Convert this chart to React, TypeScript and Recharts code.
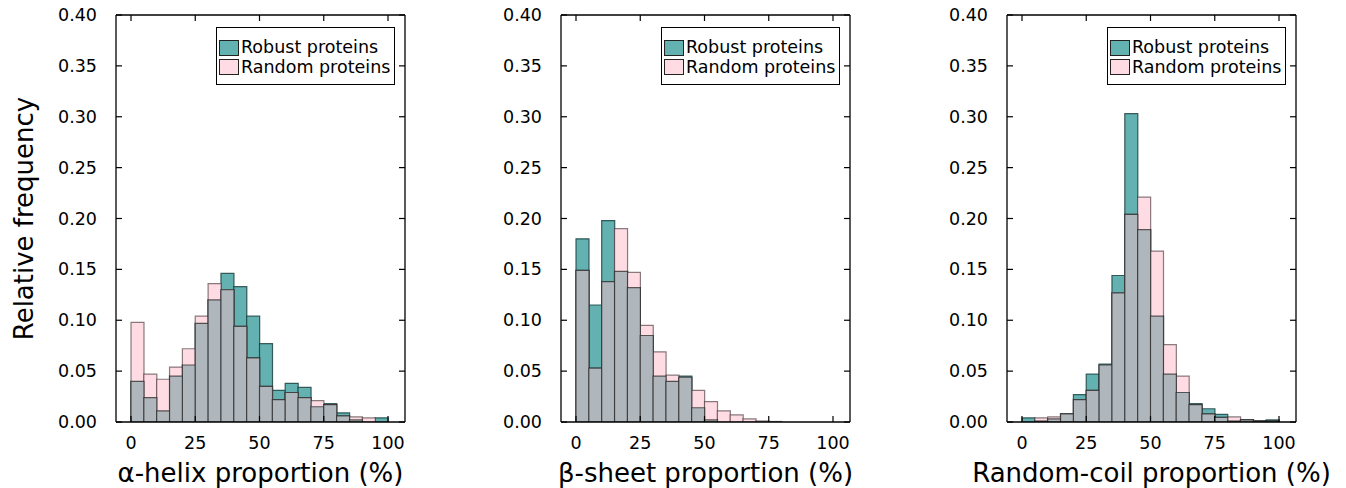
import React from 'react';
import { BarChart, Bar, XAxis, YAxis, Legend } from 'recharts';

// Histogram bins (left edges, %), width 5
const binStarts = [0, 5, 10, 15, 20, 25, 30, 35, 40, 45, 50, 55, 60, 65, 70, 75, 80, 85, 90, 95];

const helixRobust = [0.040, 0.024, 0.011, 0.045, 0.056, 0.097, 0.120, 0.146, 0.133, 0.104, 0.077, 0.031, 0.038, 0.034, 0.015, 0.018, 0.009, 0.002, 0.000, 0.004];
const helixRandom = [0.098, 0.047, 0.042, 0.054, 0.072, 0.104, 0.136, 0.130, 0.094, 0.063, 0.035, 0.022, 0.029, 0.024, 0.021, 0.017, 0.006, 0.005, 0.004, 0.000];

const sheetRobust = [0.180, 0.115, 0.198, 0.148, 0.132, 0.085, 0.045, 0.040, 0.045, 0.014, 0.002, 0.000, 0.000, 0.000, 0.000, 0.000, 0.000, 0.000, 0.000, 0.000];
const sheetRandom = [0.149, 0.053, 0.138, 0.190, 0.147, 0.095, 0.069, 0.046, 0.044, 0.031, 0.020, 0.011, 0.007, 0.003, 0.001, 0.0005, 0.000, 0.000, 0.000, 0.000];

const coilRobust = [0.004, 0.001, 0.003, 0.008, 0.027, 0.047, 0.057, 0.144, 0.303, 0.189, 0.104, 0.047, 0.029, 0.018, 0.013, 0.0075, 0.001, 0.002, 0.001, 0.002];
const coilRandom = [0.000, 0.004, 0.005, 0.008, 0.022, 0.031, 0.056, 0.127, 0.204, 0.221, 0.168, 0.076, 0.045, 0.017, 0.008, 0.0045, 0.005, 0.002, 0.001, 0.001];

const yTicks = [0, 0.05, 0.1, 0.15, 0.2, 0.25, 0.3, 0.35, 0.4];
const xTicks = [0, 25, 50, 75, 100];
const seriesNames = ['Robust proteins', 'Random proteins'];
const xTitles = ['α-helix proportion (%)', 'β-sheet proportion (%)', 'Random-coil proportion (%)'];
const yTitle = 'Relative frequency';

const FONT = '"DejaVu Sans", sans-serif';
const TEAL = '#63b1b1';
const PINK = '#ffdce3';
const GRAY = '#b0b7bc';
const TICK_FS = 17.5;

// geometry
const PLOT_W = 289;
const PAD_L = 15;
const PAD_R = 17;
const PX_PER_UNIT = (PLOT_W - PAD_L - PAD_R) / 100;
const XMIN = -PAD_L / PX_PER_UNIT;
const XMAX = 100 + PAD_R / PX_PER_UNIT;
const CHART_W = 440;
const CHART_H = 488;
// plot area: x 116..405, y 15..422 (top axis 1px tall, right axis 1px wide)
const MARGIN = { top: 14, right: CHART_W - 116 - PLOT_W - 1, bottom: 0, left: 56 };
const PANEL_OFFSETS = [0, 445, 891];

const buildRows = (robust: number[], random: number[]) =>
  binStarts.map((b, i) => ({
    bin: b,
    robust: robust[i],
    random: random[i],
    overlap: Math.min(robust[i], random[i]),
  }));

const panels = [
  buildRows(helixRobust, helixRandom),
  buildRows(sheetRobust, sheetRandom),
  buildRows(coilRobust, coilRandom),
];

const LeftTick = (props: any) => {
  const { x, y, payload } = props;
  return (
    <g>
      <line x1={x} x2={x + 6} y1={y} y2={y} stroke="#000" strokeWidth={1.2} />
      <text x={x - 19} y={y} textAnchor="end" dominantBaseline="central" fontSize={TICK_FS} fontFamily={FONT} fill="#000">
        {Number(payload.value).toFixed(2)}
      </text>
    </g>
  );
};

const RightTick = (props: any) => {
  const { x, y } = props;
  return <line x1={x} x2={x - 6} y1={y} y2={y} stroke="#000" strokeWidth={1.2} />;
};

const BottomTick = (props: any) => {
  const { x, y, payload } = props;
  return (
    <g>
      <line x1={x} x2={x} y1={y} y2={y - 6} stroke="#000" strokeWidth={1.2} />
      <text x={x} y={y + 27} textAnchor="middle" fontSize={TICK_FS} fontFamily={FONT} fill="#000">
        {payload.value}
      </text>
    </g>
  );
};

const TopTick = (props: any) => {
  const { x, y } = props;
  return <line x1={x} x2={x} y1={y} y2={y + 6} stroke="#000" strokeWidth={1.2} />;
};

const LegendBox = () => (
  <div
    style={{
      position: 'relative',
      width: 179,
      height: 58,
      border: '1px solid #000',
      background: '#fff',
      boxSizing: 'border-box',
      fontFamily: FONT,
      fontSize: TICK_FS,
      color: '#000',
    }}
  >
    {seriesNames.map((name, i) => (
      <div key={name} style={{ position: 'absolute', left: 2, top: 11 + i * 19.5, height: 17, display: 'flex', alignItems: 'center' }}>
        <div
          style={{
            width: 20,
            height: 16,
            boxSizing: 'border-box',
            border: '1.3px solid #222',
            background: i === 0 ? TEAL : PINK,
          }}
        />
        <span style={{ marginLeft: 2, lineHeight: '17px', whiteSpace: 'nowrap' }}>{name}</span>
      </div>
    ))}
  </div>
);

const axisLine = { stroke: '#000', strokeWidth: 1.3 };

const Panel = ({ rows }: { rows: any[] }) => (
  <BarChart width={CHART_W} height={CHART_H} data={rows} margin={MARGIN} barCategoryGap={0} barGap={0}>
    <XAxis
      xAxisId="num"
      dataKey="bin"
      type="number"
      domain={[XMIN, XMAX]}
      allowDataOverflow
      ticks={xTicks}
      height={66}
      tickSize={0}
      tickMargin={0}
      tickLine={false}
      tick={<BottomTick />}
      axisLine={axisLine}
      interval={0}
    />
    <XAxis
      xAxisId="top"
      dataKey="bin"
      orientation="top"
      type="number"
      domain={[XMIN, XMAX]}
      allowDataOverflow
      ticks={xTicks}
      height={1}
      tickSize={0}
      tickMargin={0}
      tickLine={false}
      tick={<TopTick />}
      axisLine={axisLine}
      interval={0}
    />
    <XAxis xAxisId="a" dataKey="bin" type="category" hide height={0} padding={{ left: PAD_L, right: PAD_R }} />
    <XAxis xAxisId="b" dataKey="bin" type="category" hide height={0} padding={{ left: PAD_L, right: PAD_R }} />
    <XAxis xAxisId="c" dataKey="bin" type="category" hide height={0} padding={{ left: PAD_L, right: PAD_R }} />
    <YAxis
      yAxisId="l"
      type="number"
      domain={[0, 0.4]}
      allowDataOverflow
      ticks={yTicks}
      width={60}
      tickSize={0}
      tickMargin={0}
      tickLine={false}
      tick={<LeftTick />}
      axisLine={axisLine}
      interval={0}
    />
    <YAxis
      yAxisId="r"
      orientation="right"
      type="number"
      domain={[0, 0.4]}
      allowDataOverflow
      ticks={yTicks}
      width={1}
      tickSize={0}
      tickMargin={0}
      tickLine={false}
      tick={<RightTick />}
      axisLine={axisLine}
      interval={0}
    />
    <Bar xAxisId="a" yAxisId="l" dataKey="robust" fill={TEAL} stroke="#1d4444" strokeOpacity={0.85} strokeWidth={1.2} isAnimationActive={false} />
    <Bar xAxisId="b" yAxisId="l" dataKey="random" fill={PINK} stroke="#3a2a2e" strokeOpacity={0.6} strokeWidth={1.2} isAnimationActive={false} />
    <Bar xAxisId="c" yAxisId="l" dataKey="overlap" fill={GRAY} stroke="#2a2a2a" strokeOpacity={0.75} strokeWidth={1.2} isAnimationActive={false} />
    <Legend
      layout="vertical"
      align="center"
      verticalAlign="middle"
      wrapperStyle={{ position: 'absolute', left: 216, top: 27, width: 179, height: 58 }}
      content={() => <LegendBox />}
    />
  </BarChart>
);

export default function App() {
  return (
    <div style={{ position: 'absolute', left: 0, top: 0, width: 1346, height: 488, background: '#fff' }}>
      {panels.map((rows, i) => (
        <div key={i} style={{ position: 'absolute', left: PANEL_OFFSETS[i], top: 0 }}>
          <Panel rows={rows} />
        </div>
      ))}
      <svg width={1346} height={488} style={{ position: 'absolute', left: 0, top: 0, pointerEvents: 'none' }}>
        <text
          x={33}
          y={218.5}
          transform="rotate(-90, 33, 218.5)"
          textAnchor="middle"
          fontSize={26}
          fontFamily={FONT}
          fill="#000"
        >
          {yTitle}
        </text>
        {xTitles.map((t, i) => (
          <text key={t} x={PANEL_OFFSETS[i] + 116 + PLOT_W / 2} y={482} textAnchor="middle" fontSize={26} fontFamily={FONT} fill="#000">
            {t}
          </text>
        ))}
      </svg>
    </div>
  );
}
